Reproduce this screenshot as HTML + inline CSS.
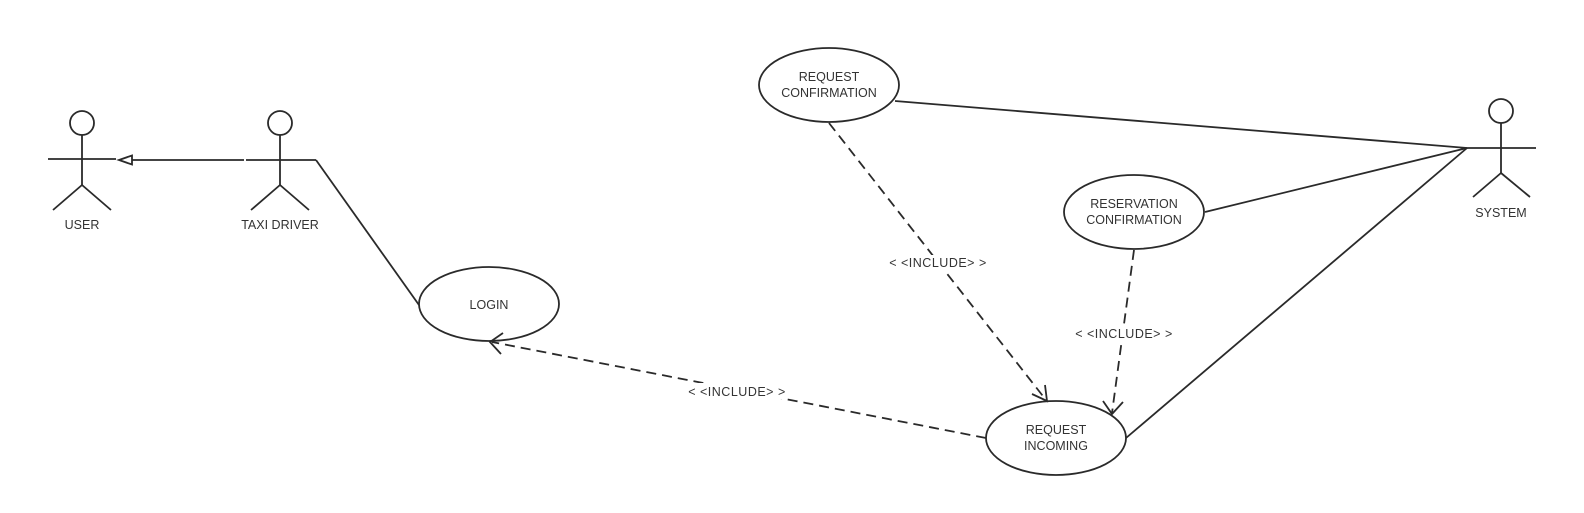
<!DOCTYPE html>
<html><head><meta charset="utf-8"><style>
html,body{margin:0;padding:0;background:#fff;}
svg{display:block;}
text{font-family:"Liberation Sans",sans-serif;font-size:12.5px;fill:#333;text-anchor:middle;}
</style></head><body>
<svg width="1584" height="513" viewBox="0 0 1584 513" xmlns="http://www.w3.org/2000/svg">
<g stroke="#2a2a2a" stroke-width="1.8" fill="none">
<circle cx="82" cy="123" r="12" fill="#fff"/>
<line x1="82" y1="135" x2="82" y2="185"/>
<line x1="48" y1="159" x2="116" y2="159"/>
<line x1="82" y1="185" x2="53" y2="210"/>
<line x1="82" y1="185" x2="111" y2="210"/>
<circle cx="280" cy="123" r="12" fill="#fff"/>
<line x1="280" y1="135" x2="280" y2="185"/>
<line x1="246" y1="160" x2="316" y2="160"/>
<line x1="280" y1="185" x2="251" y2="210"/>
<line x1="280" y1="185" x2="309" y2="210"/>
<line x1="244" y1="160" x2="132" y2="160"/>
<polygon points="119,160 132,155.5 132,164.5" fill="#fff"/>
<circle cx="1501" cy="111" r="12" fill="#fff"/>
<line x1="1501" y1="123" x2="1501" y2="173"/>
<line x1="1467" y1="148" x2="1536" y2="148"/>
<line x1="1501" y1="173" x2="1473" y2="197"/>
<line x1="1501" y1="173" x2="1530" y2="197"/>
<line x1="316" y1="160" x2="419" y2="305"/>
<line x1="895" y1="101" x2="1467" y2="148"/>
<line x1="1205" y1="212" x2="1467" y2="148"/>
<line x1="1126" y1="438" x2="1467" y2="148"/>
<ellipse cx="829" cy="85" rx="70" ry="37" fill="#fff"/>
<ellipse cx="1134" cy="212" rx="70" ry="37" fill="#fff"/>
<ellipse cx="489" cy="304" rx="70" ry="37" fill="#fff"/>
<ellipse cx="1056" cy="438" rx="70" ry="37" fill="#fff"/>
<g stroke-dasharray="10,6">
<line x1="829" y1="123" x2="1046" y2="400"/>
<line x1="1134" y1="250" x2="1112" y2="413"/>
<line x1="986" y1="438" x2="492" y2="342"/>
</g>
<polyline points="1032,394 1047,401 1045,385"/>
<polyline points="1103,401 1112,414 1123,402"/>
<polyline points="503,333 490,342 501,354"/>
</g>
<rect x="893" y="255" width="90" height="16" fill="#fff"/>
<rect x="1078" y="325" width="92" height="16" fill="#fff"/>
<rect x="690" y="383" width="94" height="16" fill="#fff"/>
<text x="829" y="81">REQUEST</text>
<text x="829" y="97">CONFIRMATION</text>
<text x="1134" y="208">RESERVATION</text>
<text x="1134" y="224">CONFIRMATION</text>
<text x="489" y="309">LOGIN</text>
<text x="1056" y="434">REQUEST</text>
<text x="1056" y="450">INCOMING</text>
<text x="82" y="229">USER</text>
<text x="280" y="229">TAXI DRIVER</text>
<text x="1501" y="217">SYSTEM</text>
<text x="938" y="267" style="letter-spacing:0.5px">&lt; &lt;INCLUDE&gt; &gt;</text>
<text x="1124" y="338" style="letter-spacing:0.5px">&lt; &lt;INCLUDE&gt; &gt;</text>
<text x="737" y="396" style="letter-spacing:0.5px">&lt; &lt;INCLUDE&gt; &gt;</text>
</svg>
</body></html>
